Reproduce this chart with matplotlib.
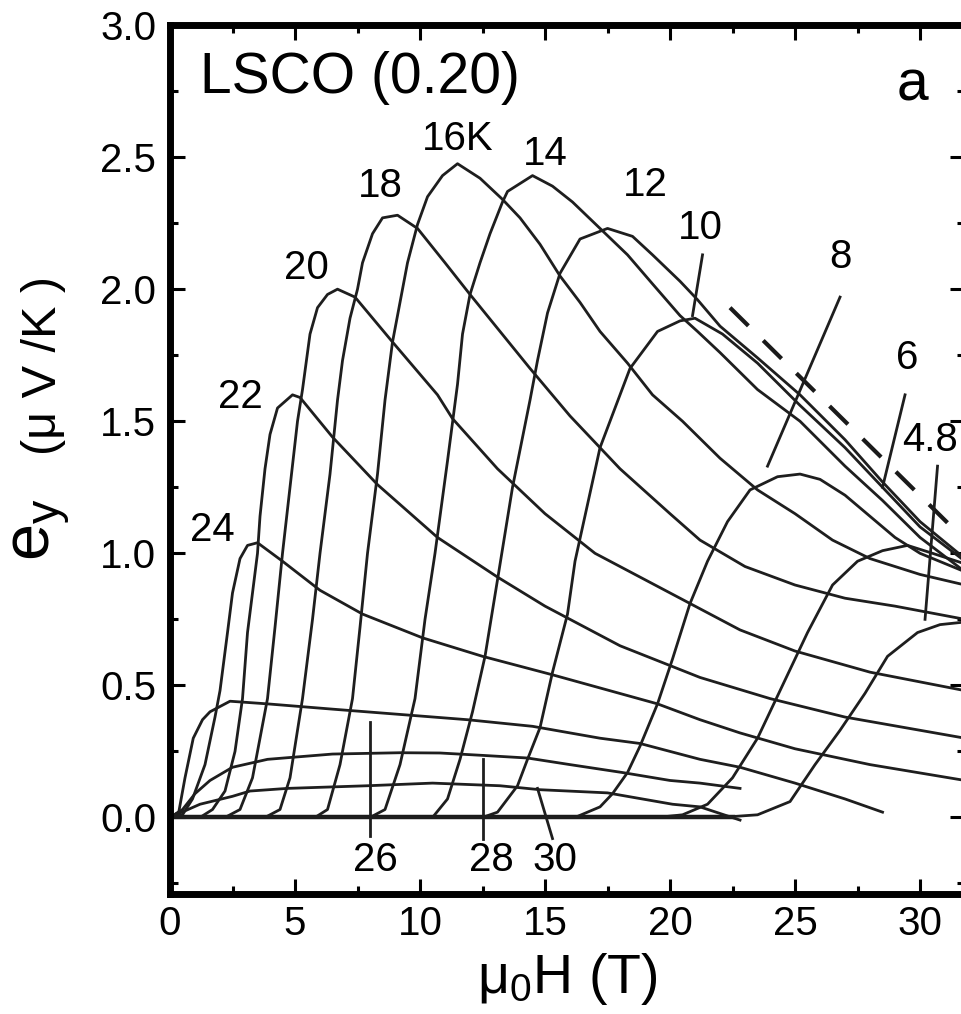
import numpy as np
import matplotlib.pyplot as plt
from matplotlib.ticker import MultipleLocator

plt.rcParams['font.family'] = ['Liberation Sans', 'DejaVu Sans']
plt.rcParams['mathtext.fontset'] = 'custom'
plt.rcParams['mathtext.rm'] = 'Liberation Sans'
plt.rcParams['mathtext.it'] = 'Liberation Sans'

# field (T) and e_y (uV/K), one pair per temperature
h30 = [0, 1.2, 2.5, 3.2, 4.7, 7.9, 10.5, 13.2, 14.8, 17.5, 20.1, 21.2, 22.8]
e30 = [0, 0.05, 0.08, 0.10, 0.11, 0.12, 0.13, 0.12, 0.105, 0.093, 0.05, 0.04, -0.01]

h28 = [0, 0.5, 1.0, 1.6, 2.5, 3.9, 6.5, 9.2, 10.8, 12.5, 14.3, 16, 18.1, 20, 21.2, 22.8]
e28 = [0, 0.03, 0.09, 0.14, 0.19, 0.22, 0.24, 0.245, 0.244, 0.235, 0.225, 0.2, 0.17, 0.14, 0.13, 0.11]

h26 = [0, 0.35, 0.6, 0.93, 1.3, 1.6, 2.4, 3.9, 6.5, 9.2, 11.9, 14.5, 17.2, 18.8, 21.2, 22.8, 25, 27, 28.5]
e26 = [0, 0.02, 0.15, 0.30, 0.37, 0.40, 0.44, 0.43, 0.41, 0.39, 0.37, 0.345, 0.30, 0.28, 0.22, 0.19, 0.13, 0.07, 0.02]

h24 = [0, 0.5, 0.9, 1.4, 1.8, 2.0, 2.3, 2.5, 2.8, 3.1, 3.5, 4.5, 6.0, 7.7, 10.1, 12.5, 15.3, 19.5, 21.2, 22.8, 25, 28, 31.8]
e24 = [0, 0.01, 0.07, 0.2, 0.38, 0.48, 0.70, 0.85, 0.98, 1.03, 1.04, 0.97, 0.86, 0.77, 0.68, 0.61, 0.54, 0.43, 0.37, 0.32, 0.26, 0.2, 0.14]

h22 = [0, 1.2, 1.7, 2.2, 2.6, 2.9, 3.1, 3.5, 3.6, 3.8, 4.0, 4.3, 4.9, 5.2, 6.5, 8.3, 10.7, 13.1, 15, 18, 21.2, 24, 27, 31.8]
e22 = [0, 0.0, 0.03, 0.10, 0.25, 0.45, 0.70, 1.0, 1.14, 1.32, 1.45, 1.55, 1.60, 1.59, 1.44, 1.26, 1.06, 0.91, 0.80, 0.65, 0.53, 0.45, 0.38, 0.30]

h20 = [0, 2.2, 2.8, 3.3, 3.9, 4.2, 4.5, 4.8, 5.1, 5.3, 5.6, 5.9, 6.3, 6.7, 7.4, 8.9, 10.7, 11.3, 13.1, 15, 17, 18, 20.8, 22.8, 25, 28, 31.8]
e20 = [0, 0, 0.03, 0.15, 0.45, 0.72, 1.0, 1.25, 1.5, 1.62, 1.83, 1.93, 1.98, 2.0, 1.97, 1.80, 1.60, 1.51, 1.32, 1.15, 1.0, 0.95, 0.81, 0.71, 0.63, 0.55, 0.48]

h18 = [0, 3.8, 4.4, 4.8, 5.3, 5.7, 6.0, 6.4, 6.7, 6.9, 7.2, 7.5, 7.7, 8.1, 8.5, 9.1, 9.9, 11, 12, 13.2, 14.4, 16, 18, 20, 21.2, 23, 25, 27, 29, 31.8]
e18 = [0, 0, 0.03, 0.15, 0.45, 0.75, 1.0, 1.3, 1.58, 1.73, 1.89, 2.0, 2.1, 2.21, 2.27, 2.28, 2.23, 2.1, 1.98, 1.84, 1.70, 1.52, 1.32, 1.15, 1.05, 0.95, 0.88, 0.83, 0.80, 0.75]

h16 = [0, 5.8, 6.3, 6.8, 7.3, 7.6, 7.9, 8.3, 8.6, 8.9, 9.2, 9.5, 9.9, 10.3, 10.9, 11.5, 12.4, 13.3, 14.0, 14.8, 15.6, 16.4, 17.2, 18.3, 19.3, 20.5, 22, 23.5, 25, 26.5, 28, 30, 31.8]
e16 = [0, 0, 0.03, 0.2, 0.45, 0.72, 1.0, 1.3, 1.58, 1.80, 1.95, 2.1, 2.245, 2.35, 2.43, 2.475, 2.42, 2.34, 2.27, 2.17, 2.05, 1.95, 1.84, 1.72, 1.60, 1.50, 1.36, 1.24, 1.15, 1.05, 0.98, 0.92, 0.88]

h14 = [0, 8.0, 8.6, 9.2, 9.8, 10.2, 10.6, 11.1, 11.5, 11.7, 12.0, 12.4, 12.8, 13.3, 13.5, 14.5, 15.3, 16.1, 17.2, 18.3, 19.3, 20.4, 21.1, 22, 23.5, 25.2, 27, 28.5, 30, 31.8]
e14 = [0, 0, 0.03, 0.2, 0.45, 0.75, 1.0, 1.35, 1.64, 1.83, 1.98, 2.1, 2.21, 2.33, 2.37, 2.43, 2.39, 2.33, 2.23, 2.13, 2.02, 1.90, 1.84, 1.76, 1.62, 1.50, 1.33, 1.2, 1.06, 0.93]

h12 = [0, 10.5, 11.1, 11.6, 12.1, 12.6, 13.1, 13.7, 14.4, 14.7, 15.1, 15.6, 16.4, 17.5, 18.5, 19.3, 20.4, 21.1, 22, 23.5, 25.2, 27, 28.5, 30, 31.8]
e12 = [0, 0, 0.07, 0.22, 0.40, 0.61, 0.90, 1.25, 1.58, 1.73, 1.91, 2.06, 2.19, 2.23, 2.20, 2.13, 2.03, 1.96, 1.86, 1.74, 1.60, 1.43, 1.27, 1.12, 0.98]

h10 = [0, 12.5, 13.1, 13.9, 14.3, 14.8, 15.3, 15.9, 16.2, 17.2, 18.4, 19.5, 20.4, 21.0, 22.1, 23.5, 25.2, 27, 28.5, 30, 31.8]
e10 = [0, 0, 0.02, 0.12, 0.22, 0.34, 0.55, 0.77, 0.97, 1.40, 1.70, 1.84, 1.88, 1.89, 1.83, 1.72, 1.56, 1.40, 1.25, 1.10, 0.97]

h8 = [0, 16.2, 16.7, 17.2, 17.7, 18.3, 18.8, 19.5, 20.1, 20.8, 21.5, 22.3, 23.2, 24.3, 25.2, 26, 27, 28, 29, 30, 31.8]
e8 = [0, 0, 0.02, 0.04, 0.09, 0.17, 0.27, 0.43, 0.60, 0.81, 0.97, 1.12, 1.24, 1.29, 1.30, 1.28, 1.22, 1.14, 1.06, 1.0, 0.93]

h6 = [0, 19.5, 20.5, 21.5, 22.5, 23.5, 24.5, 25.5, 26.5, 27.5, 28.5, 29.5, 30.5, 31.8]
e6 = [0, 0, 0.01, 0.05, 0.15, 0.30, 0.50, 0.70, 0.88, 0.97, 1.01, 1.03, 1.0, 0.96]

h4p8 = [0, 22, 23.5, 24.8, 25.8, 26.8, 27.8, 28.7, 29.9, 30.8, 31.8]
e4p8 = [0, 0, 0.01, 0.06, 0.20, 0.33, 0.47, 0.61, 0.70, 0.73, 0.74]

# overlapping zero-signal stretch of all traces below onset
base_h = [0, 22.5]
base_e = [0, 0]

# straight dashed guide at high field
guide_h = [22.4, 31.8]
guide_e = [1.93, 1.05]

curves = [(h30, e30), (h28, e28), (h26, e26), (h24, e24), (h22, e22), (h20, e20),
          (h18, e18), (h16, e16), (h14, e14), (h12, e12), (h10, e10), (h8, e8),
          (h6, e6), (h4p8, e4p8)]

fig = plt.figure(figsize=(9.61, 10.14), dpi=100)
ax = fig.add_axes([0.1769, 0.1183, 0.8273, 0.857])

ax.plot(base_h, base_e, color='#1a1a1a', lw=3.2)
for h, e in curves:
    ax.plot(h, e, color='#1e1e1e', lw=2.0, solid_joinstyle='round')

ax.plot(guide_h, guide_e, color='#1a1a1a', lw=3, dashes=(6.2, 5))

# temperature labels
lab = [('16K', 11.5, 2.57), ('14', 15.0, 2.51), ('18', 8.4, 2.39), ('12', 19.0, 2.395),
       ('10', 21.2, 2.23), ('20', 5.44, 2.08), ('8', 26.8, 2.12), ('22', 2.8, 1.59),
       ('6', 29.5, 1.74), ('24', 1.7, 1.09), ('26', 8.2, -0.16), ('28', 12.85, -0.16),
       ('30', 15.4, -0.16)]
for t, x, y in lab:
    ax.text(x, y, t, fontsize=29, ha='center', va='center')
ax.text(29.3, 1.43, '4.8', fontsize=29, ha='left', va='center', clip_on=False)

# leader lines
leaders = [([21.3, 20.9], [2.13, 1.90]), ([26.8, 23.9], [1.97, 1.33]),
           ([29.4, 28.5], [1.60, 1.25]), ([30.7, 30.2], [1.33, 0.75]),
           ([8.0, 8.0], [0.36, -0.07]), ([12.5, 12.5], [0.22, -0.08]),
           ([14.7, 15.3], [0.11, -0.08])]
for lx, ly in leaders:
    ax.plot(lx, ly, color='#1e1e1e', lw=2.0)

ax.text(1.2, 2.80, 'LSCO (0.20)', fontsize=41, ha='left', va='center')
ax.text(29.7, 2.77, 'a', fontsize=41, ha='center', va='center')

ax.set_xlim(0, 31.8)
ax.set_ylim(-0.29, 3.0)
ax.xaxis.set_major_locator(MultipleLocator(5))
ax.xaxis.set_minor_locator(MultipleLocator(2.5))
ax.yaxis.set_major_locator(MultipleLocator(0.5))
ax.yaxis.set_minor_locator(MultipleLocator(0.25))
ax.set_yticks([0, 0.5, 1.0, 1.5, 2.0, 2.5, 3.0])
ax.set_yticklabels(['0.0', '0.5', '1.0', '1.5', '2.0', '2.5', '3.0'])
ax.tick_params(which='both', direction='in', top=True, right=True, width=2.2,
               labelsize=29)
ax.tick_params(which='major', length=11)
ax.tick_params(which='minor', length=6)
ax.tick_params(axis='y', pad=10)
ax.tick_params(axis='x', pad=8)
for s in ax.spines.values():
    s.set_linewidth(5)

ax.set_xlabel(r'$\mathregular{\mu_0}$H (T)', fontsize=40, labelpad=6)
fig.text(0.043, 0.478, r'$\mathregular{e_y}$', fontsize=48, rotation=90,
         ha='center', va='center')
fig.text(0.045, 0.64, '(μ V /K )', fontsize=35, rotation=90,
         ha='center', va='center')

fig.savefig('out.png', dpi=100)
